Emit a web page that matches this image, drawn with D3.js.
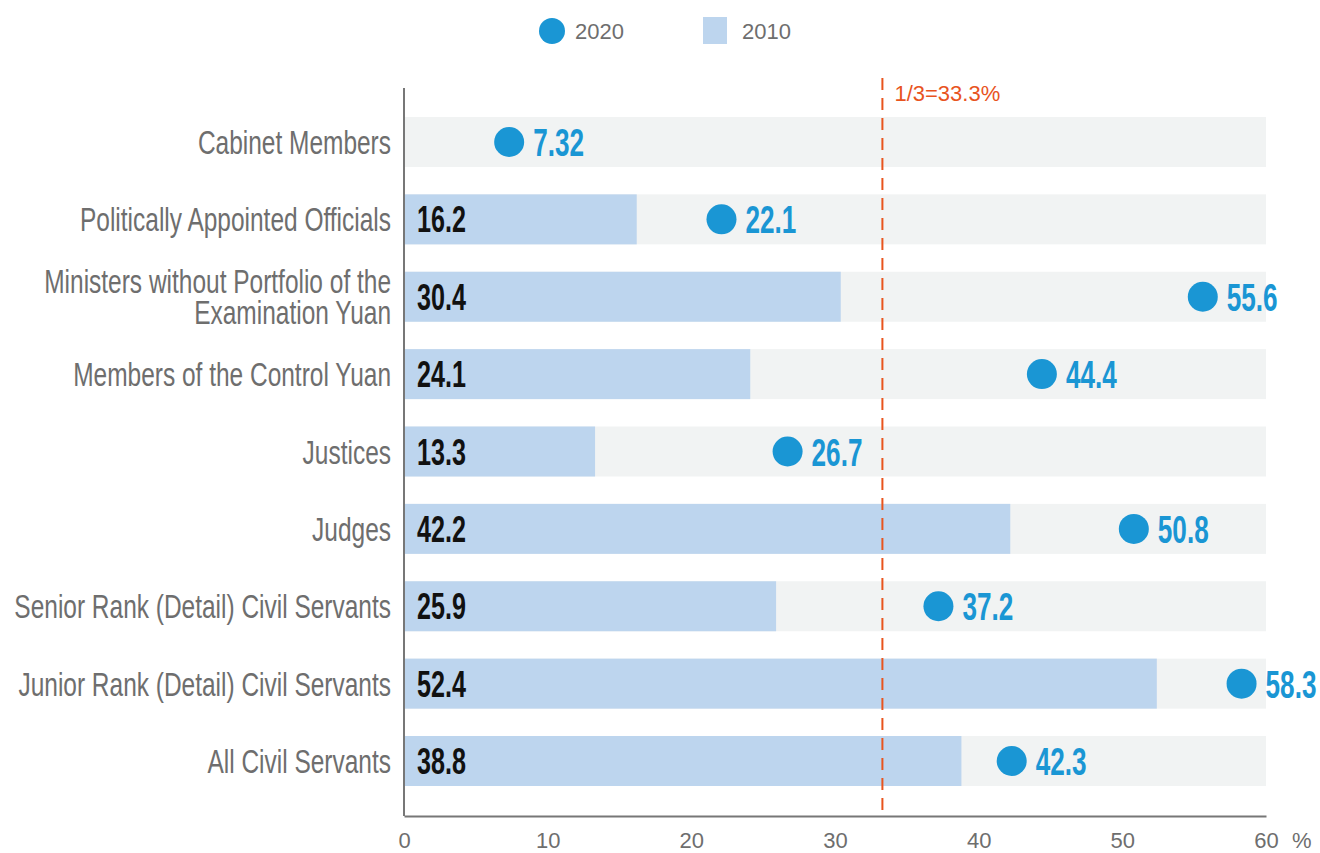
<!DOCTYPE html>
<html>
<head>
<meta charset="utf-8">
<script src="https://cdn.jsdelivr.net/npm/d3@7"></script>
<style>
  body { margin: 0; background: #fff; }
  svg { display: block; }
</style>
</head>
<body>
<div id="chart"></div>
<script>
const categories = [
  ["Cabinet Members"],
  ["Politically Appointed Officials"],
  ["Ministers without Portfolio of the", "Examination Yuan"],
  ["Members of the Control Yuan"],
  ["Justices"],
  ["Judges"],
  ["Senior Rank (Detail) Civil Servants"],
  ["Junior Rank (Detail) Civil Servants"],
  ["All Civil Servants"]
];
const values2010 = [null, 16.2, 30.4, 24.1, 13.3, 42.2, 25.9, 52.4, 38.8];
const values2020 = [7.32, 22.1, 55.6, 44.4, 26.7, 50.8, 37.2, 58.3, 42.3];
const labels2020 = ["7.32", "22.1", "55.6", "44.4", "26.7", "50.8", "37.2", "58.3", "42.3"];
const xTicks = [0, 10, 20, 30, 40, 50, 60];
const threshold = 33.3;

const width = 1320, height = 853;

const svg = d3.select("#chart").append("svg")
    .attr("width", width)
    .attr("height", height);

const x = d3.scaleLinear().domain([0, 60]).range([404, 1266]);
const y = d3.scaleBand()
    .domain(d3.range(categories.length))
    .range([117, 786])
    .paddingInner(0.354)
    .paddingOuter(0);

const condensed = "'Liberation Sans Narrow', 'Liberation Sans', Arial, sans-serif";
const grey = "#6e6e6e";

// background tracks
svg.append("g").selectAll("rect")
    .data(categories)
    .join("rect")
    .attr("x", x(0))
    .attr("y", (d, i) => y(i))
    .attr("width", x(60) - x(0))
    .attr("height", y.bandwidth())
    .attr("fill", "#f1f3f3");

// 2010 bars
const bars2010 = values2010.map((v, i) => ({ v, i })).filter(d => d.v != null);
svg.append("g").selectAll("rect")
    .data(bars2010)
    .join("rect")
    .attr("x", x(0))
    .attr("y", d => y(d.i))
    .attr("width", d => x(d.v) - x(0))
    .attr("height", y.bandwidth())
    .attr("fill", "#bdd5ee");

// 2010 labels
svg.append("g").selectAll("text")
    .data(bars2010)
    .join("text")
    .attr("transform", d => `translate(${x(0) + 13},${y(d.i) + y.bandwidth() / 2 + 13}) scale(0.68,1)`)
    .attr("font-family", condensed)
    .attr("font-weight", "bold")
    .attr("font-size", 37)
    .attr("fill", "#111")
    .text(d => d.v.toFixed(1));

// threshold line
svg.append("line")
    .attr("x1", x(threshold)).attr("x2", x(threshold))
    .attr("y1", 78).attr("y2", 815)
    .attr("stroke", "#e8541e")
    .attr("stroke-width", 2)
    .attr("stroke-dasharray", "12,8");

svg.append("text")
    .attr("x", x(threshold) + 12)
    .attr("y", 101)
    .attr("font-family", "'Liberation Sans', Arial, sans-serif")
    .attr("font-size", 22)
    .attr("fill", "#e8541e")
    .text("1/3=33.3%");

// 2020 dots
svg.append("g").selectAll("circle")
    .data(values2020)
    .join("circle")
    .attr("cx", d => x(d))
    .attr("cy", (d, i) => y(i) + y.bandwidth() / 2)
    .attr("r", 15)
    .attr("fill", "#1a96d4");

svg.append("g").selectAll("text")
    .data(values2020)
    .join("text")
    .attr("transform", (d, i) => `translate(${x(d) + 24},${y(i) + y.bandwidth() / 2 + 14}) scale(0.67,1)`)
    .attr("font-family", condensed)
    .attr("font-weight", "bold")
    .attr("font-size", 39)
    .attr("fill", "#1a96d4")
    .text((d, i) => labels2020[i]);

// category labels
const catG = svg.append("g").selectAll("text")
    .data(categories)
    .join("text")
    .attr("transform", (d, i) => `translate(391,${y(i) + y.bandwidth() / 2}) scale(0.72,1)`)
    .attr("text-anchor", "end")
    .attr("font-family", condensed)
    .attr("font-size", 34)
    .attr("fill", grey);

catG.selectAll("tspan")
    .data(d => d.map((t, k) => ({ t, k, n: d.length })))
    .join("tspan")
    .attr("x", 0)
    .attr("y", d => (d.k - (d.n - 1) / 2) * 31 + 12)
    .text(d => d.t);

// axes
svg.append("line")
    .attr("x1", x(0)).attr("x2", x(0))
    .attr("y1", 88).attr("y2", 816)
    .attr("stroke", "#777").attr("stroke-width", 2);

const xAxis = svg.append("g")
    .attr("transform", "translate(0,816)")
    .call(d3.axisBottom(x).tickValues(xTicks).tickSize(0).tickPadding(16));
xAxis.select(".domain").attr("stroke", "#777").attr("stroke-width", 2);
xAxis.selectAll("text")
    .attr("font-family", condensed)
    .attr("font-size", 22)
    .attr("fill", grey);

svg.append("text")
    .attr("x", x(60) + 26)
    .attr("y", 848)
    .attr("font-family", condensed)
    .attr("font-size", 22)
    .attr("fill", grey)
    .text("%");

// legend
const legend = svg.append("g");
legend.append("circle")
    .attr("cx", 552).attr("cy", 31).attr("r", 13)
    .attr("fill", "#1a96d4");
legend.append("text")
    .attr("x", 575).attr("y", 39)
    .attr("font-family", "'Liberation Sans', Arial, sans-serif")
    .attr("font-size", 22)
    .attr("fill", grey)
    .text("2020");
legend.append("rect")
    .attr("x", 703).attr("y", 17).attr("width", 24).attr("height", 27)
    .attr("fill", "#bdd5ee");
legend.append("text")
    .attr("x", 742).attr("y", 39)
    .attr("font-family", "'Liberation Sans', Arial, sans-serif")
    .attr("font-size", 22)
    .attr("fill", grey)
    .text("2010");
</script>
</body>
</html>
